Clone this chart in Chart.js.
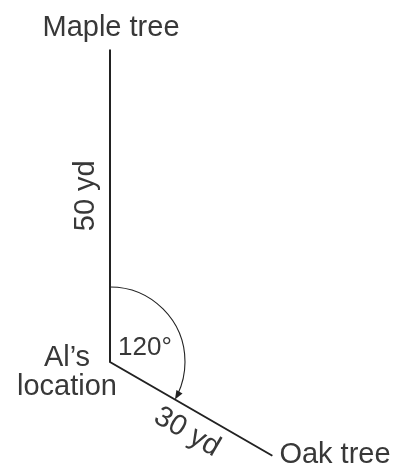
<!DOCTYPE html>
<html>
<head>
<title>Al's location</title>
<script src="https://cdn.jsdelivr.net/npm/chart.js@4.4.1/dist/chart.umd.min.js"></script>
<style>
    body { margin: 0; background: #fff; }
    #wrap { width: 401px; height: 466px; }
</style>
</head>
<body>
<div id="wrap">
    <canvas id="treeChart" width="401" height="466"></canvas>
</div>
<script>
// ---------------- data ----------------
const places = ['Maple tree', 'Al\u2019s', 'location', 'Oak tree'];
const distances = [50, 30];          // yd: Al -> maple, Al -> oak
const distLabels = ['50 yd', '30 yd'];
const angleDeg = 120;                // angle between the two paths
const angleLabel = '120\u00b0';
const arcRadius = 12;                // yd, the marked angle arc

// points in yards, Al at the origin, maple straight north
const al = { x: 0, y: 0 };
const maple = { x: 0, y: distances[0] };
const rad = angleDeg * Math.PI / 180;
const oak = { x: distances[1] * Math.sin(rad), y: distances[1] * Math.cos(rad) };

const pxPerYd = 6.25;
const ink = '#222';
const textInk = '#383838';
const font = "'Liberation Sans', Arial, sans-serif";

// arc, arrow and labels
const diagramPlugin = {
    id: 'diagram',
    afterDatasetsDraw(chart) {
        const ctx = chart.ctx;
        const xs = chart.scales.x, ys = chart.scales.y;
        const P = p => ({ x: xs.getPixelForValue(p.x), y: ys.getPixelForValue(p.y) });
        const A = P(al), M = P(maple), O = P(oak);
        const r = xs.getPixelForValue(arcRadius) - xs.getPixelForValue(0);

        ctx.save();
        // angle arc, from north going clockwise to the oak path
        const a0 = -Math.PI / 2;
        const a1 = a0 + rad;
        ctx.strokeStyle = ink;
        ctx.lineWidth = 1.1;
        ctx.beginPath();
        ctx.arc(A.x, A.y, r, a0, a1 - 0.08);
        ctx.stroke();
        // arrow head
        const tip = { x: A.x + r * Math.cos(a1), y: A.y + r * Math.sin(a1) };
        const tx = -Math.sin(a1), ty = Math.cos(a1);
        const nx = -ty, ny = tx;
        ctx.fillStyle = ink;
        ctx.beginPath();
        ctx.moveTo(tip.x, tip.y);
        ctx.lineTo(tip.x - tx * 9 + nx * 3.5, tip.y - ty * 9 + ny * 3.5);
        ctx.lineTo(tip.x - tx * 9 - nx * 3.5, tip.y - ty * 9 - ny * 3.5);
        ctx.closePath();
        ctx.fill();

        // labels
        ctx.fillStyle = textInk;
        ctx.textBaseline = 'alphabetic';
        ctx.font = '29px ' + font;

        ctx.textAlign = 'center';
        ctx.fillText(places[0], M.x + 1, M.y - 14);
        ctx.fillText(places[1], A.x - 43, A.y + 4);
        ctx.fillText(places[2], A.x - 43, A.y + 33);

        ctx.textAlign = 'left';
        ctx.fillText(places[3], O.x + 7, O.y + 7);

        // 50 yd, reading upwards
        ctx.save();
        ctx.translate(A.x - 16, (A.y + M.y) / 2 - 10);
        ctx.rotate(-Math.PI / 2);
        ctx.textAlign = 'center';
        ctx.fillText(distLabels[0], 0, 0);
        ctx.restore();

        // 30 yd, along the oak path
        const th = Math.atan2(O.y - A.y, O.x - A.x);
        ctx.save();
        ctx.translate(A.x + 73, A.y + 77);
        ctx.rotate(th);
        ctx.textAlign = 'center';
        ctx.fillText(distLabels[1], 0, 0);
        ctx.restore();

        ctx.font = '26px ' + font;
        ctx.textAlign = 'left';
        ctx.fillText(angleLabel, A.x + 8, A.y - 7);
        ctx.restore();
    }
};

const W = 401, H = 466;
const alPx = { x: 110, y: 362 };

new Chart(document.getElementById('treeChart'), {
    type: 'scatter',
    data: {
        datasets: [{
            data: [maple, al, oak],
            showLine: true,
            borderColor: ink,
            borderWidth: 2,
            pointRadius: 0,
            tension: 0,
            fill: false
        }]
    },
    options: {
        responsive: false,
        animation: false,
        layout: { padding: 0 },
        plugins: { legend: { display: false }, tooltip: { enabled: false } },
        scales: {
            x: { type: 'linear', display: false, min: -alPx.x / pxPerYd, max: (W - alPx.x) / pxPerYd },
            y: { type: 'linear', display: false, min: -(H - alPx.y) / pxPerYd, max: alPx.y / pxPerYd }
        }
    },
    plugins: [diagramPlugin]
});
</script>
</body>
</html>
